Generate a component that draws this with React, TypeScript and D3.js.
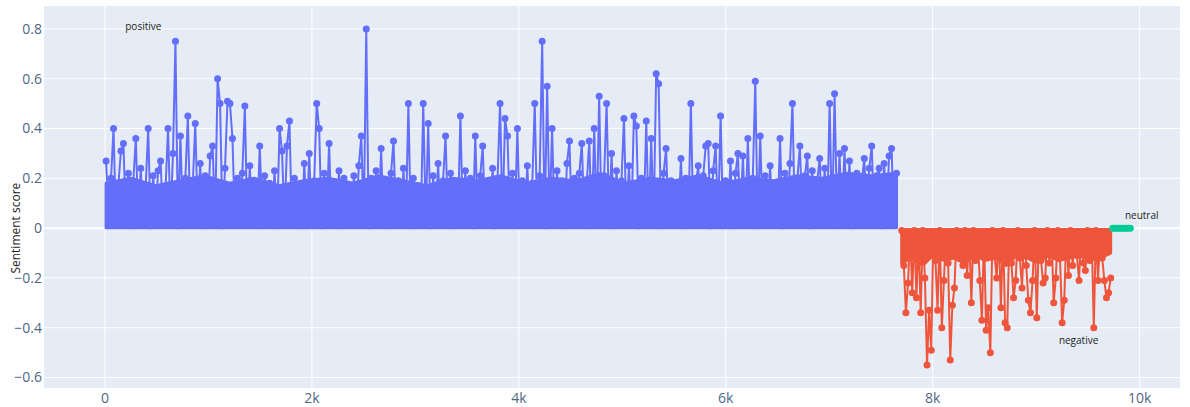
import React from 'react';
import * as d3 from 'd3';

// row index ranges of each sentiment group
const positiveRange = [10, 7650];
const negativeRange = [7700, 9720];
const neutralRange = [9740, 9910];

const positiveScores = [
  0.27, 0.05, 0.2, 0.4, 0.02, 0.18, 0.31, 0.34, 0.03, 0.22, 0.01, 0.19, 0.36, 0.04, 0.24, 0.02, 0.17, 0.4, 0.01, 0.21,
  0.06, 0.23, 0.27, 0.02, 0.16, 0.4, 0.03, 0.3, 0.75, 0.01, 0.37, 0.04, 0.2, 0.45, 0.02, 0.18, 0.42, 0.05, 0.26, 0.01,
  0.21, 0.03, 0.29, 0.33, 0.02, 0.6, 0.5, 0.01, 0.24, 0.51, 0.5, 0.36, 0.03, 0.2, 0.05, 0.22, 0.49, 0.02, 0.25, 0.04,
  0.19, 0.01, 0.33, 0.06, 0.21, 0.02, 0.18, 0.04, 0.23, 0.01, 0.4, 0.31, 0.03, 0.33, 0.43, 0.02, 0.2, 0.05, 0.17, 0.01,
  0.26, 0.03, 0.3, 0.02, 0.19, 0.5, 0.4, 0.01, 0.22, 0.04, 0.34, 0.02, 0.18, 0.05, 0.23, 0.01, 0.2, 0.03, 0.16, 0.02,
  0.21, 0.04, 0.25, 0.37, 0.02, 0.8, 0.01, 0.2, 0.05, 0.23, 0.02, 0.32, 0.03, 0.18, 0.01, 0.22, 0.35, 0.04, 0.19, 0.02,
  0.24, 0.03, 0.5, 0.01, 0.2, 0.05, 0.17, 0.02, 0.5, 0.03, 0.42, 0.01, 0.21, 0.04, 0.26, 0.02, 0.19, 0.37, 0.03, 0.22,
  0.01, 0.18, 0.04, 0.45, 0.02, 0.23, 0.05, 0.2, 0.01, 0.37, 0.03, 0.21, 0.33, 0.02, 0.17, 0.04, 0.24, 0.01, 0.2, 0.5,
  0.03, 0.44, 0.37, 0.02, 0.22, 0.05, 0.4, 0.01, 0.19, 0.04, 0.25, 0.02, 0.18, 0.5, 0.03, 0.21, 0.75, 0.01, 0.57, 0.04,
  0.4, 0.02, 0.23, 0.05, 0.19, 0.01, 0.26, 0.35, 0.03, 0.2, 0.02, 0.22, 0.34, 0.04, 0.18, 0.35, 0.01, 0.4, 0.03, 0.53,
  0.02, 0.21, 0.5, 0.04, 0.3, 0.01, 0.23, 0.05, 0.19, 0.44, 0.02, 0.25, 0.03, 0.45, 0.41, 0.01, 0.2, 0.04, 0.43, 0.02,
  0.36, 0.03, 0.62, 0.58, 0.01, 0.22, 0.32, 0.04, 0.19, 0.02, 0.16, 0.05, 0.28, 0.01, 0.2, 0.03, 0.5, 0.02, 0.18, 0.25,
  0.04, 0.21, 0.33, 0.34, 0.01, 0.23, 0.33, 0.03, 0.45, 0.02, 0.19, 0.05, 0.27, 0.01, 0.22, 0.3, 0.03, 0.29, 0.02, 0.36,
  0.04, 0.2, 0.59, 0.01, 0.37, 0.03, 0.21, 0.05, 0.25, 0.02, 0.18, 0.04, 0.36, 0.01, 0.22, 0.03, 0.26, 0.5, 0.02, 0.2,
  0.33, 0.04, 0.21, 0.29, 0.01, 0.23, 0.05, 0.19, 0.28, 0.02, 0.24, 0.03, 0.5, 0.01, 0.54, 0.04, 0.3, 0.02, 0.32, 0.03,
  0.27, 0.01, 0.2, 0.22, 0.04, 0.19, 0.28, 0.02, 0.24, 0.33, 0.03, 0.21, 0.24, 0.01, 0.26, 0.05, 0.29, 0.32, 0.02, 0.22,
];

const negativeScores = [
  -0.01, -0.15, -0.34, -0.22, -0.02, -0.26, -0.01, -0.28, -0.03, -0.34,
  -0.01, -0.2, -0.55, -0.33, -0.49, -0.02, -0.13, -0.33, -0.01, -0.4,
  -0.21, -0.02, -0.14, -0.53, -0.31, -0.24, -0.01, -0.12, -0.03, -0.15,
  -0.01, -0.19, -0.02, -0.3, -0.01, -0.13, -0.03, -0.21, -0.37, -0.02,
  -0.41, -0.32, -0.5, -0.01, -0.11, -0.2, -0.02, -0.32, -0.01, -0.38,
  -0.4, -0.03, -0.14, -0.28, -0.21, -0.01, -0.12, -0.24, -0.02, -0.15,
  -0.29, -0.34, -0.21, -0.01, -0.36, -0.02, -0.13, -0.22, -0.2, -0.01,
  -0.14, -0.03, -0.3, -0.2, -0.01, -0.12, -0.38, -0.29, -0.02, -0.19,
  -0.01, -0.15, -0.03, -0.11, -0.21, -0.02, -0.14, -0.17, -0.01, -0.13,
  -0.02, -0.4, -0.01, -0.21, -0.03, -0.12, -0.21, -0.28, -0.26, -0.2,
];

const neutralScores = [0, 0, 0, 0, 0, 0, 0, 0, 0];

// edges of the solid block where thousands of rows overlap
const positiveBandTop = [
  0.18, 0.2, 0.17, 0.19, 0.21, 0.18, 0.2, 0.17, 0.19, 0.2, 0.18, 0.21, 0.19, 0.17, 0.2, 0.19, 0.21,
  0.18, 0.2, 0.19, 0.22, 0.18, 0.2, 0.19, 0.21, 0.18, 0.2, 0.19, 0.21, 0.2, 0.22, 0.21, 0.22,
];
const positiveBandBottom = [0.002, 0.002];
const negativeBandTop = [-0.006, -0.006];
const negativeBandBottom = [
  -0.14, -0.12, -0.15, -0.11, -0.13, -0.12, -0.14, -0.11, -0.13, -0.12, -0.15,
  -0.11, -0.12, -0.14, -0.11, -0.13, -0.12, -0.11, -0.13, -0.12, -0.1,
];

const xTicks = [0, 2000, 4000, 6000, 8000, 10000];
const xTickLabels = ['0', '2k', '4k', '6k', '8k', '10k'];
const yTicks = [-0.6, -0.4, -0.2, 0, 0.2, 0.4, 0.6, 0.8];
const yTickLabels = ['\u22120.6', '\u22120.4', '\u22120.2', '0', '0.2', '0.4', '0.6', '0.8'];

const W = 1190;
const H = 407;
const plot = { left: 44, right: 1180, top: 6, bottom: 388 };
const FONT = '"Open Sans", "Noto Sans", sans-serif';
const TICK_COLOR = '#506784';

type Pt = { x: number; y: number };

const toPoints = (values: number[], range: number[]): Pt[] =>
  values.map((v, i) => ({
    x: range[0] + (i * (range[1] - range[0])) / Math.max(1, values.length - 1),
    y: v,
  }));

// value of an edge array at row x (edges are sampled evenly over the range)
const edgeAt = (edge: number[], range: number[], xv: number) => {
  const t = ((xv - range[0]) / (range[1] - range[0])) * (edge.length - 1);
  const i = Math.min(edge.length - 2, Math.max(0, Math.floor(t)));
  return edge[i] + (edge[i + 1] - edge[i]) * (t - i);
};

export default function App() {
  const x = d3.scaleLinear().domain([-590, 10390]).range([plot.left, plot.right]);
  const y = d3.scaleLinear().domain([-0.642, 0.892]).range([plot.bottom, plot.top]);

  const line = d3
    .line<Pt>()
    .x((d) => x(d.x))
    .y((d) => y(d.y));

  const band = (top: number[], bottom: number[], range: number[]) => {
    const xs = d3.range(range[0], range[1] + 1, (range[1] - range[0]) / 64);
    return (
      d3
        .area<number>()
        .x((d) => x(d))
        .y0((d) => y(edgeAt(bottom, range, d)))
        .y1((d) => y(edgeAt(top, range, d)))(xs) || ''
    );
  };

  const series = [
    {
      name: 'positive',
      color: '#636efa',
      pts: toPoints(positiveScores, positiveRange),
      band: band(positiveBandTop, positiveBandBottom, positiveRange),
    },
    {
      name: 'negative',
      color: '#ef553b',
      pts: toPoints(negativeScores, negativeRange),
      band: band(negativeBandTop, negativeBandBottom, negativeRange),
    },
    { name: 'neutral', color: '#00cc96', pts: toPoints(neutralScores, neutralRange), band: '' },
  ];

  return (
    <div style={{ position: 'absolute', left: 0, top: 0 }}>
      <svg width={W} height={H} style={{ display: 'block', background: '#fff' }}>
        <rect
          x={plot.left}
          y={plot.top}
          width={plot.right - plot.left}
          height={plot.bottom - plot.top}
          fill="#e5ecf6"
        />
        {/* grid */}
        {xTicks.map((t) => (
          <line key={'gx' + t} x1={x(t)} x2={x(t)} y1={plot.top} y2={plot.bottom} stroke="#fff" strokeWidth={1} />
        ))}
        {yTicks.map((t) => (
          <line
            key={'gy' + t}
            x1={plot.left}
            x2={plot.right}
            y1={y(t)}
            y2={y(t)}
            stroke="#fff"
            strokeWidth={t === 0 ? 2 : 1}
          />
        ))}

        {/* traces */}
        {series.map((s) => (
          <g key={s.name}>
            {s.band && <path d={s.band} fill={s.color} stroke={s.color} strokeWidth={3} strokeLinejoin="round" />}
            <path d={line(s.pts) || ''} fill="none" stroke={s.color} strokeWidth={2} strokeLinejoin="round" />
            {s.pts.map((p, i) => (
              <circle key={i} cx={x(p.x)} cy={y(p.y)} r={3.5} fill={s.color} />
            ))}
          </g>
        ))}

        {/* tick labels */}
        {yTicks.map((t, i) => (
          <text
            key={'ty' + t}
            x={plot.left - 2}
            y={y(t)}
            dy="0.35em"
            textAnchor="end"
            fontFamily={FONT}
            fontSize={14}
            fill={TICK_COLOR}
          >
            {yTickLabels[i]}
          </text>
        ))}
        {xTicks.map((t, i) => (
          <text
            key={'tx' + t}
            x={x(t)}
            y={403}
            textAnchor="middle"
            fontFamily={FONT}
            fontSize={14}
            fill={TICK_COLOR}
          >
            {xTickLabels[i]}
          </text>
        ))}

        {/* axis title */}
        <text
          transform={`translate(20,${y(0)}) rotate(-90)`}
          textAnchor="middle"
          fontFamily={FONT}
          fontSize={12}
          fill="#222"
        >
          Sentiment score
        </text>

        {/* annotations */}
        <text x={x(370)} y={y(0.81)} dy="0.35em" textAnchor="middle" fontFamily={FONT} fontSize={10} fill="#222">
          positive
        </text>
        <text x={x(10020)} y={y(0.05)} dy="0.35em" textAnchor="middle" fontFamily={FONT} fontSize={10} fill="#222">
          neutral
        </text>
        <text x={x(9410)} y={y(-0.45)} dy="0.35em" textAnchor="middle" fontFamily={FONT} fontSize={10} fill="#222">
          negative
        </text>
      </svg>
    </div>
  );
}
